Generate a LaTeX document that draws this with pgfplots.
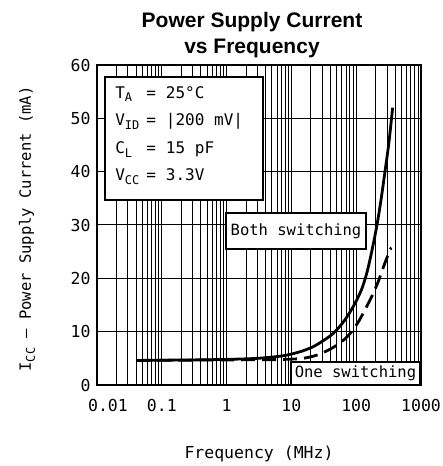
\documentclass[border=0pt]{standalone}
\usepackage{fontspec}
\setmainfont{DejaVu Sans Mono}
\newfontfamily\titlefont{Liberation Sans}
\usepackage{pgfplots}
\pgfplotsset{compat=1.18}
\newcommand{\sub}[1]{\raisebox{-0.45ex}{\fontsize{12bp}{12bp}\selectfont #1}}
\begin{document}
\begin{tikzpicture}
\begin{axis}[
  scale only axis, width=324bp, height=320bp,
  xmode=log, xmin=0.01, xmax=1000, ymin=0, ymax=60,
  xtick={0.01,0.1,1,10,100,1000},
  xticklabels={\hspace*{22bp}0.01,0.1,1,10,100,1000},
  minor xtick={0.02,0.03,0.04,0.05,0.06,0.07,0.08,0.09,
               0.2,0.3,0.4,0.5,0.6,0.7,0.8,0.9,
               2,3,4,5,6,7,8,9,
               20,30,40,50,60,70,80,90,
               200,300,400,500,600,700,800,900},
  ytick={0,10,20,30,40,50,60},
  yticklabels={0,10,20,30,40,50,60},
  xmajorgrids, xminorgrids, ymajorgrids,
  grid style={black, line width=1bp},
  minor grid style={black, line width=1bp},
  axis line style={line width=1.8bp},
  tick style={draw=none},
  tick label style={font=\fontsize{16.5bp}{18bp}\selectfont},
  xticklabel style={anchor=base, yshift=-26.5bp},
  yticklabel style={xshift=-3bp},
  clip=false,
]
\addplot[black, line width=2.8bp, smooth] coordinates {
  (0.04,4.6) (0.1,4.65) (0.3,4.7) (1,4.8) (3,5.0) (6.7,5.4) (10,5.8)
  (15,6.4) (21.8,7.2) (30,8.2) (44.5,9.7) (65,12.0) (90,14.7) (120,17.8)
  (145,20.9) (170,24.5) (207,29.7) (240,34.5) (278,40.0) (320,45.5) (365,52.0)
};
\addplot[black, line width=2.8bp, dash pattern=on 14bp off 7bp, smooth] coordinates {
  (0.04,4.6) (1,4.7) (5,4.75) (10,4.85) (15,5.0) (21.8,5.4) (30,6.0)
  (45,7.1) (65,8.5) (85,10.0) (110,12.0) (145,14.7) (180,17.0) (219,19.4)
  (270,22.5) (332,25.3) (350,25.7)
};
\draw[line width=1.6bp, fill=white] (axis cs:0.01327,57.75) rectangle (axis cs:3.65,34.69);
\node[anchor=base west, inner sep=0pt, font=\fontsize{16bp}{27.5bp}\selectfont] at (axis cs:0.019,53.8) {%
  \begin{tabular}[t]{@{}l@{\hspace{7bp}}l@{\hspace{10bp}}l@{}}
  T\sub{A} & = & 25°C\\
  V\sub{ID} & = & |200 mV|\\
  C\sub{L} & = & 15 pF\\
  V\sub{CC} & = & 3.3V
  \end{tabular}};
\node[draw, fill=white, line width=1.6bp, minimum width=140bp, minimum height=36bp, inner sep=0pt,
      font=\fontsize{15.5bp}{17bp}\selectfont] at (axis cs:11.78,28.88) {Both switching};
\node[draw, fill=white, line width=1.6bp, minimum width=129bp, minimum height=23bp, inner sep=0pt,
      font=\fontsize{15.5bp}{17bp}\selectfont] at (axis cs:97.5,2.16) {One switching};
\end{axis}
\node[anchor=base, font=\titlefont\bfseries\fontsize{21bp}{24bp}\selectfont]
  at ([xshift=-7bp,yshift=37bp]current axis.north) {Power Supply Current};
\node[anchor=base, font=\titlefont\bfseries\fontsize{21bp}{24bp}\selectfont]
  at ([xshift=-7bp,yshift=11bp]current axis.north) {vs Frequency};
\node[anchor=base, font=\fontsize{16.5bp}{18bp}\selectfont]
  at ([yshift=-73bp]current axis.south) {Frequency (MHz)};
\node[anchor=base, rotate=90, font=\fontsize{15.5bp}{17bp}\selectfont]
  at ([xshift=-66bp,yshift=-4bp]current axis.west) {I\sub{CC} – Power Supply Current (mA)};
\pgfresetboundingbox
\useasboundingbox ([shift={(-97bp,-81bp)}]current axis.south west) rectangle ([shift={(21bp,65bp)}]current axis.north east);
\end{tikzpicture}
\end{document}
